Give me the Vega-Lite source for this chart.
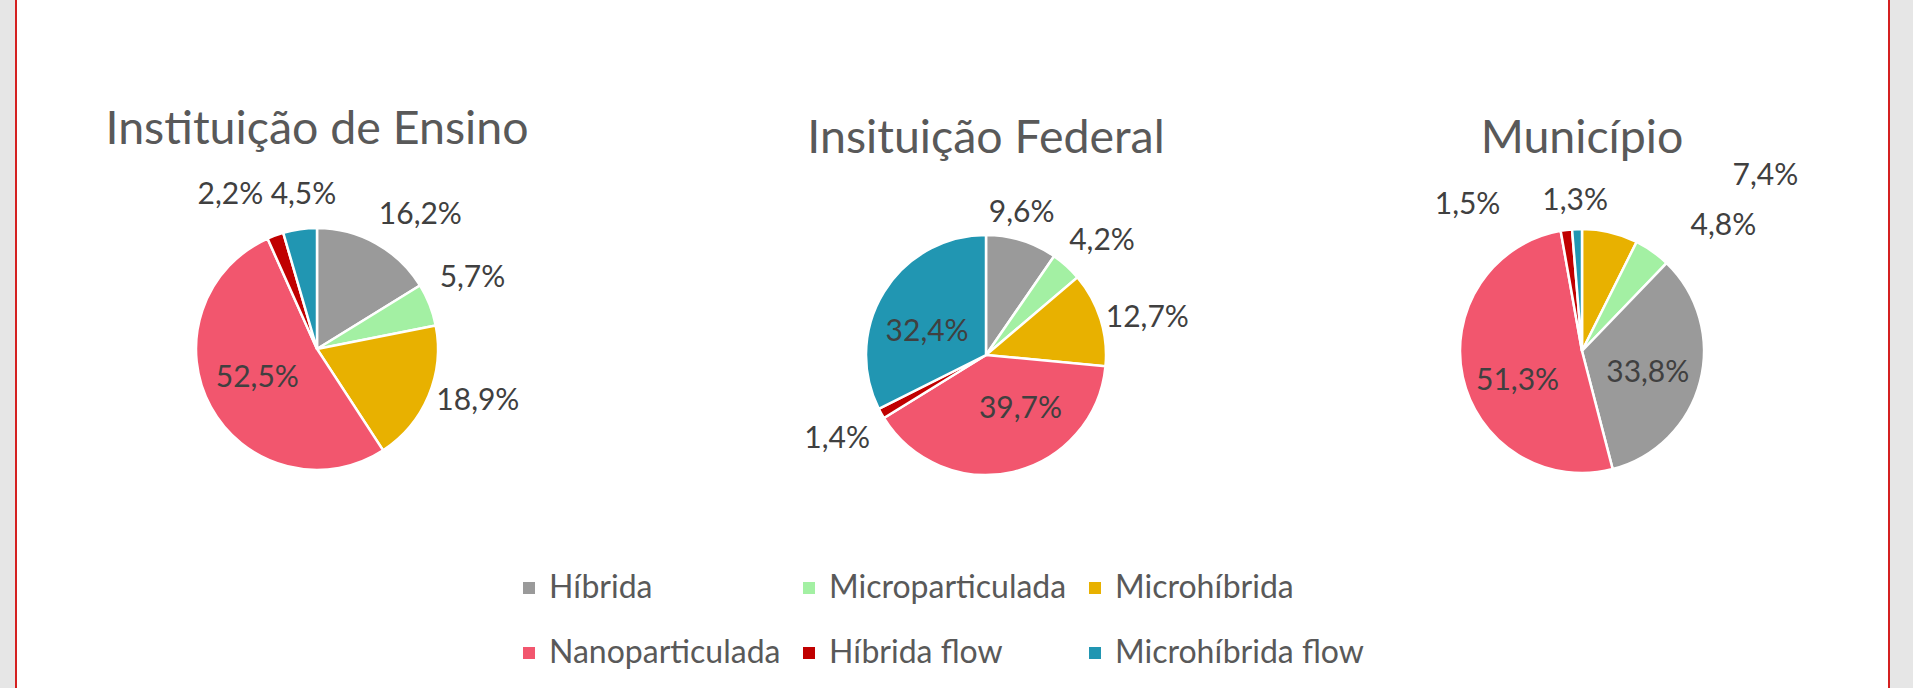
{
  "$schema": "https://vega.github.io/schema/vega-lite/v6.json",
  "background": "#e6e6e6",
  "padding": {"left": 15, "top": 0, "right": 23, "bottom": 0},
  "config": {
    "view": {"stroke": null},
    "font": "Lato",
    "locale": {"number": {"decimal": ",", "thousands": ".", "grouping": [3], "currency": ["R$", ""]}},
    "text": {"font": "Lato", "fontSize": 30, "fill": "#404040", "align": "center", "baseline": "middle"},
    "title": {"font": "Lato", "fontSize": 46.5, "fontWeight": "normal", "color": "#595959", "anchor": "middle", "baseline": "middle"}
  },
  "spacing": 0,
  "bounds": "flush",
  "resolve": {"scale": {"color": "shared"}, "legend": {"color": "shared"}},
  "vconcat": [
    {
      "spacing": 0,
      "bounds": "flush",
      "hconcat": [
        {"width": 320, "height": 2, "view": {"fill": "#d42020", "stroke": null}, "data": {"values": []}, "mark": {"type": "point", "opacity": 0}, "encoding": {}},
        {"width": 1555, "height": 2, "view": {"fill": "#6e6e6e", "stroke": null}, "data": {"values": []}, "mark": {"type": "point", "opacity": 0}, "encoding": {}}
      ]
    },
    {
      "spacing": 0,
      "bounds": "flush",
      "resolve": {"scale": {"color": "shared"}, "legend": {"color": "shared"}},
      "hconcat": [
        {"width": 2, "height": 688, "view": {"fill": "#d42020", "stroke": null}, "data": {"values": []}, "mark": {"type": "point", "opacity": 0}, "encoding": {}},
        {
          "width": 600, "height": 688,
          "view": {"fill": "white", "stroke": null},
          "title": {"text": "Instituição de Ensino", "offset": -153},
          "data": {"values": [
            {"tipo": "Híbrida", "pct": 0.162, "ordem": 1},
            {"tipo": "Microparticulada", "pct": 0.057, "ordem": 2},
            {"tipo": "Microhíbrida", "pct": 0.189, "ordem": 3},
            {"tipo": "Nanoparticulada", "pct": 0.525, "ordem": 4},
            {"tipo": "Híbrida flow", "pct": 0.022, "ordem": 5},
            {"tipo": "Microhíbrida flow", "pct": 0.045, "ordem": 6}
          ]},
          "encoding": {
            "theta": {"field": "pct", "type": "quantitative", "stack": true},
            "order": {"field": "ordem", "type": "quantitative"}
          },
          "layer": [
            {"mark": {"type": "arc", "outerRadius": 121, "stroke": "white", "strokeWidth": 2.5, "yOffset": 5},
             "encoding": {"color": {"field": "tipo", "type": "nominal",
               "scale": {"domain": ["Híbrida", "Microparticulada", "Microhíbrida", "Nanoparticulada", "Híbrida flow", "Microhíbrida flow"], "range": ["#9a9a9a", "#a3f0a3", "#e8b100", "#f2566e", "#c00000", "#2196b2"]},
               "legend": {"orient": "none", "legendX": 498, "legendY": 572, "direction": "horizontal", "columns": 3, "gridAlign": "each", "title": null, "symbolType": "square", "symbolSize": 144, "symbolStrokeWidth": 0, "symbolOpacity": 1, "labelFont": "Lato", "labelFontSize": 32, "labelColor": "#595959", "columnPadding": 12, "rowPadding": 33, "labelOffset": 4, "padding": 0, "labelLimit": 400}}}},
            {"mark": {"type": "text", "radius": 167, "yOffset": 5, "dx": 22, "dy": 12}, "encoding": {"text": {"condition": {"test": "datum.tipo === 'Híbrida'", "field": "pct", "format": ".1%"}, "value": ""}}},
            {"mark": {"type": "text", "radius": 167, "yOffset": 5, "dx": 0, "dy": -10}, "encoding": {"text": {"condition": {"test": "datum.tipo === 'Microparticulada'", "field": "pct", "format": ".1%"}, "value": ""}}},
            {"mark": {"type": "text", "radius": 167, "yOffset": 5, "dx": 7, "dy": -13}, "encoding": {"text": {"condition": {"test": "datum.tipo === 'Microhíbrida'", "field": "pct", "format": ".1%"}, "value": ""}}},
            {"mark": {"type": "text", "radius": 68, "yOffset": 5, "dx": 0, "dy": -4}, "encoding": {"text": {"condition": {"test": "datum.tipo === 'Nanoparticulada'", "field": "pct", "format": ".1%"}, "value": ""}}},
            {"mark": {"type": "text", "radius": 167, "yOffset": 5, "dx": -29, "dy": 3}, "encoding": {"text": {"condition": {"test": "datum.tipo === 'Híbrida flow'", "field": "pct", "format": ".1%"}, "value": ""}}},
            {"mark": {"type": "text", "radius": 167, "yOffset": 5, "dx": 10, "dy": 11}, "encoding": {"text": {"condition": {"test": "datum.tipo === 'Microhíbrida flow'", "field": "pct", "format": ".1%"}, "value": ""}}}
          ]
        },
        {
          "width": 738, "height": 688,
          "view": {"fill": "white", "stroke": null},
          "title": {"text": "Insituição Federal", "offset": -162},
          "data": {"values": [
            {"tipo": "Híbrida", "pct": 0.096, "ordem": 1},
            {"tipo": "Microparticulada", "pct": 0.042, "ordem": 2},
            {"tipo": "Microhíbrida", "pct": 0.127, "ordem": 3},
            {"tipo": "Nanoparticulada", "pct": 0.397, "ordem": 4},
            {"tipo": "Híbrida flow", "pct": 0.014, "ordem": 5},
            {"tipo": "Microhíbrida flow", "pct": 0.324, "ordem": 6}
          ]},
          "encoding": {
            "theta": {"field": "pct", "type": "quantitative", "stack": true},
            "order": {"field": "ordem", "type": "quantitative"}
          },
          "layer": [
            {"mark": {"type": "arc", "outerRadius": 120, "stroke": "white", "strokeWidth": 2.5, "yOffset": 11},
             "encoding": {"color": {"field": "tipo", "type": "nominal"}}},
            {"mark": {"type": "text", "radius": 167, "yOffset": 11, "dx": -14, "dy": 17}, "encoding": {"text": {"condition": {"test": "datum.tipo === 'Híbrida'", "field": "pct", "format": ".1%"}, "value": ""}}},
            {"mark": {"type": "text", "radius": 167, "yOffset": 11, "dx": 4, "dy": 10}, "encoding": {"text": {"condition": {"test": "datum.tipo === 'Microparticulada'", "field": "pct", "format": ".1%"}, "value": ""}}},
            {"mark": {"type": "text", "radius": 167, "yOffset": 11, "dx": 2, "dy": 13}, "encoding": {"text": {"condition": {"test": "datum.tipo === 'Microhíbrida'", "field": "pct", "format": ".1%"}, "value": ""}}},
            {"mark": {"type": "text", "radius": 68, "yOffset": 11, "dx": 19, "dy": -12}, "encoding": {"text": {"condition": {"test": "datum.tipo === 'Nanoparticulada'", "field": "pct", "format": ".1%"}, "value": ""}}},
            {"mark": {"type": "text", "radius": 167, "yOffset": 11, "dx": -3, "dy": 3}, "encoding": {"text": {"condition": {"test": "datum.tipo === 'Híbrida flow'", "field": "pct", "format": ".1%"}, "value": ""}}},
            {"mark": {"type": "text", "radius": 68, "yOffset": 11, "dx": -1, "dy": 13}, "encoding": {"text": {"condition": {"test": "datum.tipo === 'Microhíbrida flow'", "field": "pct", "format": ".1%"}, "value": ""}}}
          ]
        },
        {
          "width": 454, "height": 688,
          "view": {"fill": "white", "stroke": null},
          "title": {"text": "Município", "offset": -162},
          "data": {"values": [
            {"tipo": "Microhíbrida", "pct": 0.074, "ordem": 1},
            {"tipo": "Microparticulada", "pct": 0.048, "ordem": 2},
            {"tipo": "Híbrida", "pct": 0.338, "ordem": 3},
            {"tipo": "Nanoparticulada", "pct": 0.513, "ordem": 4},
            {"tipo": "Híbrida flow", "pct": 0.015, "ordem": 5},
            {"tipo": "Microhíbrida flow", "pct": 0.013, "ordem": 6}
          ]},
          "encoding": {
            "theta": {"field": "pct", "type": "quantitative", "stack": true},
            "order": {"field": "ordem", "type": "quantitative"}
          },
          "layer": [
            {"mark": {"type": "arc", "outerRadius": 122, "stroke": "white", "strokeWidth": 2.5, "yOffset": 7},
             "encoding": {"color": {"field": "tipo", "type": "nominal"}}},
            {"mark": {"type": "text", "radius": 167, "yOffset": 7, "dx": 145, "dy": -12}, "encoding": {"text": {"condition": {"test": "datum.tipo === 'Microhíbrida'", "field": "pct", "format": ".1%"}, "value": ""}}},
            {"mark": {"type": "text", "radius": 167, "yOffset": 7, "dx": 45, "dy": 11}, "encoding": {"text": {"condition": {"test": "datum.tipo === 'Microparticulada'", "field": "pct", "format": ".1%"}, "value": ""}}},
            {"mark": {"type": "text", "radius": 68, "yOffset": 7, "dx": 0, "dy": 5}, "encoding": {"text": {"condition": {"test": "datum.tipo === 'Híbrida'", "field": "pct", "format": ".1%"}, "value": ""}}},
            {"mark": {"type": "text", "radius": 68, "yOffset": 7, "dx": 2, "dy": 15}, "encoding": {"text": {"condition": {"test": "datum.tipo === 'Nanoparticulada'", "field": "pct", "format": ".1%"}, "value": ""}}},
            {"mark": {"type": "text", "radius": 167, "yOffset": 7, "dx": -93, "dy": 20}, "encoding": {"text": {"condition": {"test": "datum.tipo === 'Híbrida flow'", "field": "pct", "format": ".1%"}, "value": ""}}},
            {"mark": {"type": "text", "radius": 167, "yOffset": 7, "dx": 0, "dy": 17}, "encoding": {"text": {"condition": {"test": "datum.tipo === 'Microhíbrida flow'", "field": "pct", "format": ".1%"}, "value": ""}}}
          ]
        },
        {"width": 79, "height": 688, "view": {"fill": "white", "stroke": null}, "data": {"values": []}, "mark": {"type": "point", "opacity": 0}, "encoding": {}},
        {"width": 2, "height": 688, "view": {"fill": "#d42020", "stroke": null}, "data": {"values": []}, "mark": {"type": "point", "opacity": 0}, "encoding": {}}
      ]
    }
  ]
}
